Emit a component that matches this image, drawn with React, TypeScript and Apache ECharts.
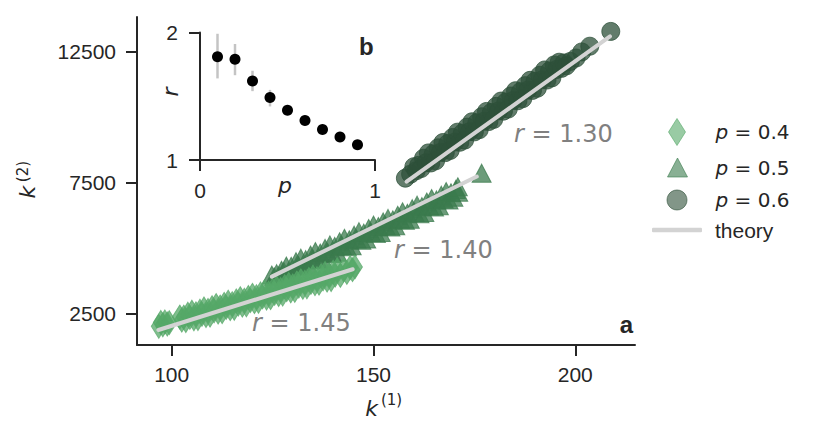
import React, { useEffect, useRef } from 'react';
import * as echarts from 'echarts';

// ---------- data ----------
const xTickValues = [100, 150, 200];
const yTickValues = [2500, 7500, 12500];

// p = 0.4 (diamonds): [k1, k2]
const p04Points: number[][] = [
  [96.8, 2000], [97.3, 2150], [97.8, 2060], [98.3, 2170], [98.9, 2090], [99.4, 2140],
  [102.0, 2356], [102.5, 2235], [103.0, 2354], [103.5, 2223], [104.0, 2462], [104.5, 2341],
  [105.0, 2540], [105.5, 2290], [106.0, 2480], [106.5, 2300], [107.0, 2580], [107.5, 2462],
  [108.0, 2664], [108.5, 2415], [109.0, 2607], [109.5, 2428], [110.0, 2710], [110.5, 2592],
  [111.0, 2794], [111.5, 2546], [112.0, 2738], [112.5, 2560], [113.0, 2841], [113.5, 2723],
  [114.0, 2925], [114.5, 2677], [115.0, 2868], [115.5, 2690], [116.0, 2972], [116.5, 2854],
  [117.0, 3055], [117.5, 2807], [118.0, 2999], [118.5, 2821], [119.0, 3102], [119.5, 2985],
  [120.0, 3187], [120.5, 2941], [121.0, 3134], [121.5, 2957], [122.0, 3240], [122.5, 3123],
  [123.0, 3326], [123.5, 3079], [124.0, 3272], [124.5, 3095], [125.0, 3378], [125.5, 3261],
  [126.0, 3464], [126.5, 3217], [127.0, 3410], [127.5, 3233], [128.0, 3516], [128.5, 3399],
  [129.0, 3602], [129.5, 3355], [130.0, 3548], [130.5, 3371], [131.0, 3654], [131.5, 3537],
  [132.0, 3739], [132.5, 3493], [133.0, 3686], [133.5, 3509], [134.0, 3792], [134.5, 3676],
  [135.0, 3879], [135.5, 3632], [136.0, 3825], [136.5, 3648], [137.0, 3931], [137.5, 3815],
  [138.0, 4018], [138.5, 3771], [139.0, 3964], [139.5, 3787], [140.0, 4070], [140.5, 3954],
  [141.0, 4157], [141.8, 3944], [142.6, 4161], [143.4, 4058], [144.2, 4245], [144.8, 4163],
  [145.4, 4270],
];

// p = 0.5 (triangles)
const p05Points: number[][] = [
  [124.8, 3959], [125.4, 3891], [126.0, 4013], [126.6, 3925], [127.2, 4143], [127.8, 4090],
  [128.4, 4302], [129.0, 4064], [129.6, 4296], [130.2, 4068], [130.8, 4471], [131.4, 4323],
  [132.0, 4605], [132.6, 4277], [133.2, 4549], [133.8, 4321], [134.4, 4724], [135.0, 4576],
  [135.6, 4858], [136.2, 4530], [136.8, 4802], [137.4, 4574], [138.0, 4977], [138.6, 4829],
  [139.2, 5111], [139.8, 4783], [140.4, 5055], [141.0, 4827], [141.6, 5230], [142.2, 5082],
  [142.8, 5364], [143.4, 5036], [144.0, 5308], [144.6, 5080], [145.2, 5483], [145.8, 5335],
  [146.4, 5617], [147.0, 5289], [147.6, 5561], [148.2, 5333], [148.8, 5736], [149.4, 5588],
  [150.0, 5870], [150.6, 5542], [151.2, 5814], [151.8, 5586], [152.4, 5989], [153.0, 5841],
  [153.6, 6123], [154.2, 5795], [154.8, 6067], [155.4, 5839], [156.0, 6242], [156.6, 6094],
  [157.2, 6376], [157.8, 6048], [158.4, 6320], [159.0, 6092], [159.6, 6495], [160.2, 6347],
  [160.8, 6629], [161.4, 6301], [162.0, 6573], [162.6, 6345], [163.2, 6748], [163.8, 6600],
  [164.4, 6882], [165.0, 6554], [165.6, 6829], [166.2, 6604], [166.8, 7009], [167.4, 6864],
  [168.0, 7150], [168.6, 6825], [169.2, 7100], [169.8, 6935], [170.4, 7230], [171.0, 7125],
  [170.9, 7330], [176.8, 7850],
];

// p = 0.6 (circles)
const p06Points: number[][] = [
  [157.9, 7660], [159.2, 7814],
  [160.0, 8098], [160.6, 7944], [161.2, 8150], [161.8, 8026], [162.4, 8422], [163.0, 8248],
  [163.6, 8624], [164.2, 8240], [164.8, 8586], [165.4, 8322], [166.0, 8818], [166.6, 8644],
  [167.2, 9020], [167.8, 8636], [168.4, 8982], [169.0, 8718], [169.6, 9214], [170.2, 9040],
  [170.8, 9416], [171.4, 9032], [172.0, 9378], [172.6, 9114], [173.2, 9610], [173.8, 9436],
  [174.4, 9812], [175.0, 9428], [175.6, 9774], [176.2, 9510], [176.8, 10006], [177.4, 9832],
  [178.0, 10208], [178.6, 9824], [179.2, 10170], [179.8, 9906], [180.4, 10402], [181.0, 10228],
  [181.6, 10604], [182.2, 10220], [182.8, 10566], [183.4, 10302], [184.0, 10798], [184.6, 10624],
  [185.2, 11000], [185.8, 10616], [186.4, 10962], [187.0, 10698], [187.6, 11194], [188.2, 11020],
  [188.8, 11396], [189.4, 11012], [190.0, 11358], [190.6, 11094], [191.2, 11590], [191.8, 11416],
  [192.4, 11792], [193.0, 11408], [193.6, 11754], [194.2, 11490], [194.8, 11986], [195.4, 11812],
  [196.0, 12088], [196.6, 11854], [197.2, 12060], [197.8, 11950],
  [198.8, 12120], [200.2, 12250], [201.6, 12480], [203.6, 12700], [208.8, 13265],
];

// theory curves
const theory145: number[][] = [[96.7, 1861], [144.85, 4182]];
const theory140: number[][] = [[124.8, 3899], [175.6, 7722]];
const theory130: number[][] = [[158.2, 7530], [208.6, 13074]];

// inset b
const insetP = [0.1, 0.2, 0.3, 0.4, 0.5, 0.6, 0.7, 0.8, 0.9];
const insetR = [1.81, 1.79, 1.62, 1.49, 1.39, 1.31, 1.24, 1.18, 1.12];
const insetRLow = [1.64, 1.665, 1.54, 1.42, 1.36, 1.29, 1.22, 1.16, 1.10];
const insetRHigh = [1.99, 1.91, 1.70, 1.55, 1.42, 1.33, 1.26, 1.20, 1.14];

const seriesNames = ['p = 0.4', 'p = 0.5', 'p = 0.6'];
const rLabelValues = ['1.45', '1.40', '1.30'];

// ---------- styles ----------
const AX = '#262626';
const SANS = 'Liberation Sans, Arial, sans-serif';
const MATH = 'DejaVu Sans';
const C04 = '#55a868';
const C05 = '#3b7b4d';
const C06 = '#2e5039';
const THEORY = '#d3d3d3';
const ALPHA = 0.75;
const LEGEND_ALPHA = 0.6;

const legendRich = {
  i: { fontStyle: 'italic', fontFamily: MATH, fontSize: 20, color: AX },
  n: { fontFamily: MATH, fontSize: 20, color: AX },
};
const grayRich = {
  i: { fontStyle: 'italic', fontFamily: MATH, fontSize: 24, fill: '#808080', color: '#808080' },
  n: { fontFamily: MATH, fontSize: 24, fill: '#808080', color: '#808080' },
};

const plainNum = (v: number) => String(v);

const axisCommon = (gridIndex: number) => ({
  gridIndex,
  type: 'value',
  splitLine: { show: false },
  axisLine: { show: true, onZero: false, lineStyle: { color: AX, width: 2 } },
  axisTick: { show: true, length: 11, lineStyle: { color: AX, width: 2 } },
});

export default function App() {
  const ref = useRef<HTMLDivElement>(null);

  useEffect(() => {
    if (!ref.current) return;
    const chart = echarts.init(ref.current, undefined, { renderer: 'svg' });

    const markerLegend = (name: string, icon: string, color: string, left: number, top: number, w: number, h: number, gap: number) => ({
      orient: 'vertical',
      padding: 0,
      selectedMode: false,
      left,
      top,
      itemWidth: w,
      itemHeight: h,
      textStyle: { rich: legendRich, padding: [0, 0, 0, gap] },
      formatter: (n: string) => `{i|${n.slice(0, 1)}}{n|${n.slice(1)}}`,
      data: [{ name, icon, itemStyle: { color, borderColor: color, borderWidth: 1, opacity: LEGEND_ALPHA } }],
    });

    const option: any = {
      animation: false,
      grid: [
        { left: 137, top: 17, width: 498, height: 328 },
        { left: 200, top: 32.5, width: 175, height: 127.5 },
      ],
      xAxis: [
        {
          ...axisCommon(0),
          min: 91.4,
          max: 214.8,
          axisTick: { show: true, length: 11, lineStyle: { color: AX, width: 2 }, customValues: xTickValues },
          axisLabel: { customValues: xTickValues, formatter: plainNum, margin: 19, fontSize: 21, fontFamily: SANS, color: AX },
        },
        {
          ...axisCommon(1),
          min: 0,
          max: 1,
          interval: 1,
          axisLabel: { formatter: plainNum, margin: 20, fontSize: 21, fontFamily: SANS, color: AX },
        },
      ],
      yAxis: [
        {
          ...axisCommon(0),
          min: 1288,
          max: 13815,
          axisTick: { show: true, length: 11, lineStyle: { color: AX, width: 2 }, customValues: yTickValues },
          axisLabel: { customValues: yTickValues, formatter: plainNum, margin: 21, fontSize: 21, fontFamily: SANS, color: AX },
        },
        {
          ...axisCommon(1),
          min: 1,
          max: 2,
          interval: 1,
          axisLabel: { formatter: plainNum, margin: 22, fontSize: 21, fontFamily: SANS, color: AX },
        },
      ],
      legend: [
        markerLegend(seriesNames[0], 'diamond', C04, 668, 118, 17, 27, 25),
        markerLegend(seriesNames[1], 'triangle', C05, 667, 157.5, 20, 19, 23),
        markerLegend(seriesNames[2], 'circle', C06, 666.5, 189.5, 20, 20, 23.5),
        {
          orient: 'vertical',
          padding: 0,
          selectedMode: false,
          left: 652,
          top: 219.5,
          itemWidth: 50,
          itemHeight: 4.5,
          textStyle: { fontFamily: SANS, fontSize: 21, color: AX, padding: [0, 0, 0, 8] },
          data: [{ name: 'theory', icon: 'roundRect', itemStyle: { color: THEORY, borderWidth: 0, opacity: 1 } }],
        },
      ],
      series: [
        {
          name: seriesNames[1],
          type: 'scatter',
          xAxisIndex: 0,
          yAxisIndex: 0,
          data: p05Points,
          symbol: 'triangle',
          symbolSize: [19, 18],
          itemStyle: { color: C05, borderColor: C05, borderWidth: 1, opacity: ALPHA },
          silent: true,
          z: 2,
        },
        {
          name: seriesNames[0],
          type: 'scatter',
          xAxisIndex: 0,
          yAxisIndex: 0,
          data: p04Points,
          symbol: 'diamond',
          symbolSize: [15, 24],
          itemStyle: { color: C04, borderColor: C04, borderWidth: 1, opacity: ALPHA },
          silent: true,
          z: 3,
        },
        {
          name: seriesNames[2],
          type: 'scatter',
          xAxisIndex: 0,
          yAxisIndex: 0,
          data: p06Points,
          symbol: 'circle',
          symbolSize: 18,
          itemStyle: { color: C06, borderColor: C06, borderWidth: 1, opacity: ALPHA },
          silent: true,
          z: 2,
        },
        ...[theory145, theory140, theory130].map((d) => ({
          name: 'theory',
          type: 'line',
          xAxisIndex: 0,
          yAxisIndex: 0,
          data: d,
          symbol: 'none',
          showSymbol: false,
          lineStyle: { color: THEORY, width: 4, cap: 'round' },
          itemStyle: { color: THEORY },
          silent: true,
          z: 5,
        })),
        {
          type: 'custom',
          xAxisIndex: 1,
          yAxisIndex: 1,
          data: insetP.map((p, i) => [p, insetRLow[i], insetRHigh[i]]),
          encode: { x: 0, y: [1, 2] },
          renderItem: (_params: any, api: any) => {
            const a = api.coord([api.value(0), api.value(1)]);
            const b = api.coord([api.value(0), api.value(2)]);
            return {
              type: 'line',
              shape: { x1: a[0], y1: a[1], x2: b[0], y2: b[1] },
              style: { stroke: '#c4c4c4', lineWidth: 2.5 },
            };
          },
          silent: true,
          z: 6,
        },
        {
          type: 'scatter',
          xAxisIndex: 1,
          yAxisIndex: 1,
          data: insetP.map((p, i) => [p, insetR[i]]),
          symbol: 'circle',
          symbolSize: 11,
          itemStyle: { color: '#000000', opacity: 1 },
          silent: true,
          z: 7,
        },
      ],
      graphic: [
        // r annotations
        { type: 'text', x: 252, y: 323, style: { text: `{i|r}{n| = ${rLabelValues[0]}}`, rich: grayRich, fill: '#808080', align: 'left', verticalAlign: 'middle' } },
        { type: 'text', x: 394, y: 250, style: { text: `{i|r}{n| = ${rLabelValues[1]}}`, rich: grayRich, fill: '#808080', align: 'left', verticalAlign: 'middle' } },
        { type: 'text', x: 514, y: 134, style: { text: `{i|r}{n| = ${rLabelValues[2]}}`, rich: grayRich, fill: '#808080', align: 'left', verticalAlign: 'middle' } },
        // panel letters
        { type: 'text', x: 633, y: 324, style: { text: 'a', fontFamily: SANS, fontWeight: 'bold', fontSize: 24, fill: AX, align: 'right', verticalAlign: 'middle' } },
        { type: 'text', x: 359, y: 46.5, style: { text: 'b', fontFamily: SANS, fontWeight: 'bold', fontSize: 24, fill: AX, align: 'left', verticalAlign: 'middle' } },
        // axis titles main
        { type: 'text', x: 371.5, y: 408.5, style: { text: 'k', fontFamily: MATH, fontStyle: 'italic', fontSize: 22, fill: AX, align: 'center', verticalAlign: 'middle' } },
        { type: 'text', x: 391.5, y: 400, style: { text: '(1)', fontFamily: MATH, fontSize: 15, fill: AX, align: 'center', verticalAlign: 'middle' } },
        { type: 'text', x: 27.5, y: 192, rotation: Math.PI / 2, style: { text: 'k', fontFamily: MATH, fontStyle: 'italic', fontSize: 22, fill: AX, align: 'center', verticalAlign: 'middle' } },
        { type: 'text', x: 23, y: 171.5, rotation: Math.PI / 2, style: { text: '(2)', fontFamily: MATH, fontSize: 15, fill: AX, align: 'center', verticalAlign: 'middle' } },
        // inset axis titles
        { type: 'text', x: 170, y: 92, rotation: Math.PI / 2, style: { text: 'r', fontFamily: MATH, fontStyle: 'italic', fontSize: 22, fill: AX, align: 'center', verticalAlign: 'middle' } },
        { type: 'text', x: 285, y: 185, style: { text: 'p', fontFamily: MATH, fontStyle: 'italic', fontSize: 22, fill: AX, align: 'center', verticalAlign: 'middle' } },
      ],
    };

    chart.setOption(option);
    return () => chart.dispose();
  }, []);

  return <div ref={ref} style={{ width: 823, height: 441, position: 'absolute', left: 0, top: 0, background: '#ffffff' }} />;
}
